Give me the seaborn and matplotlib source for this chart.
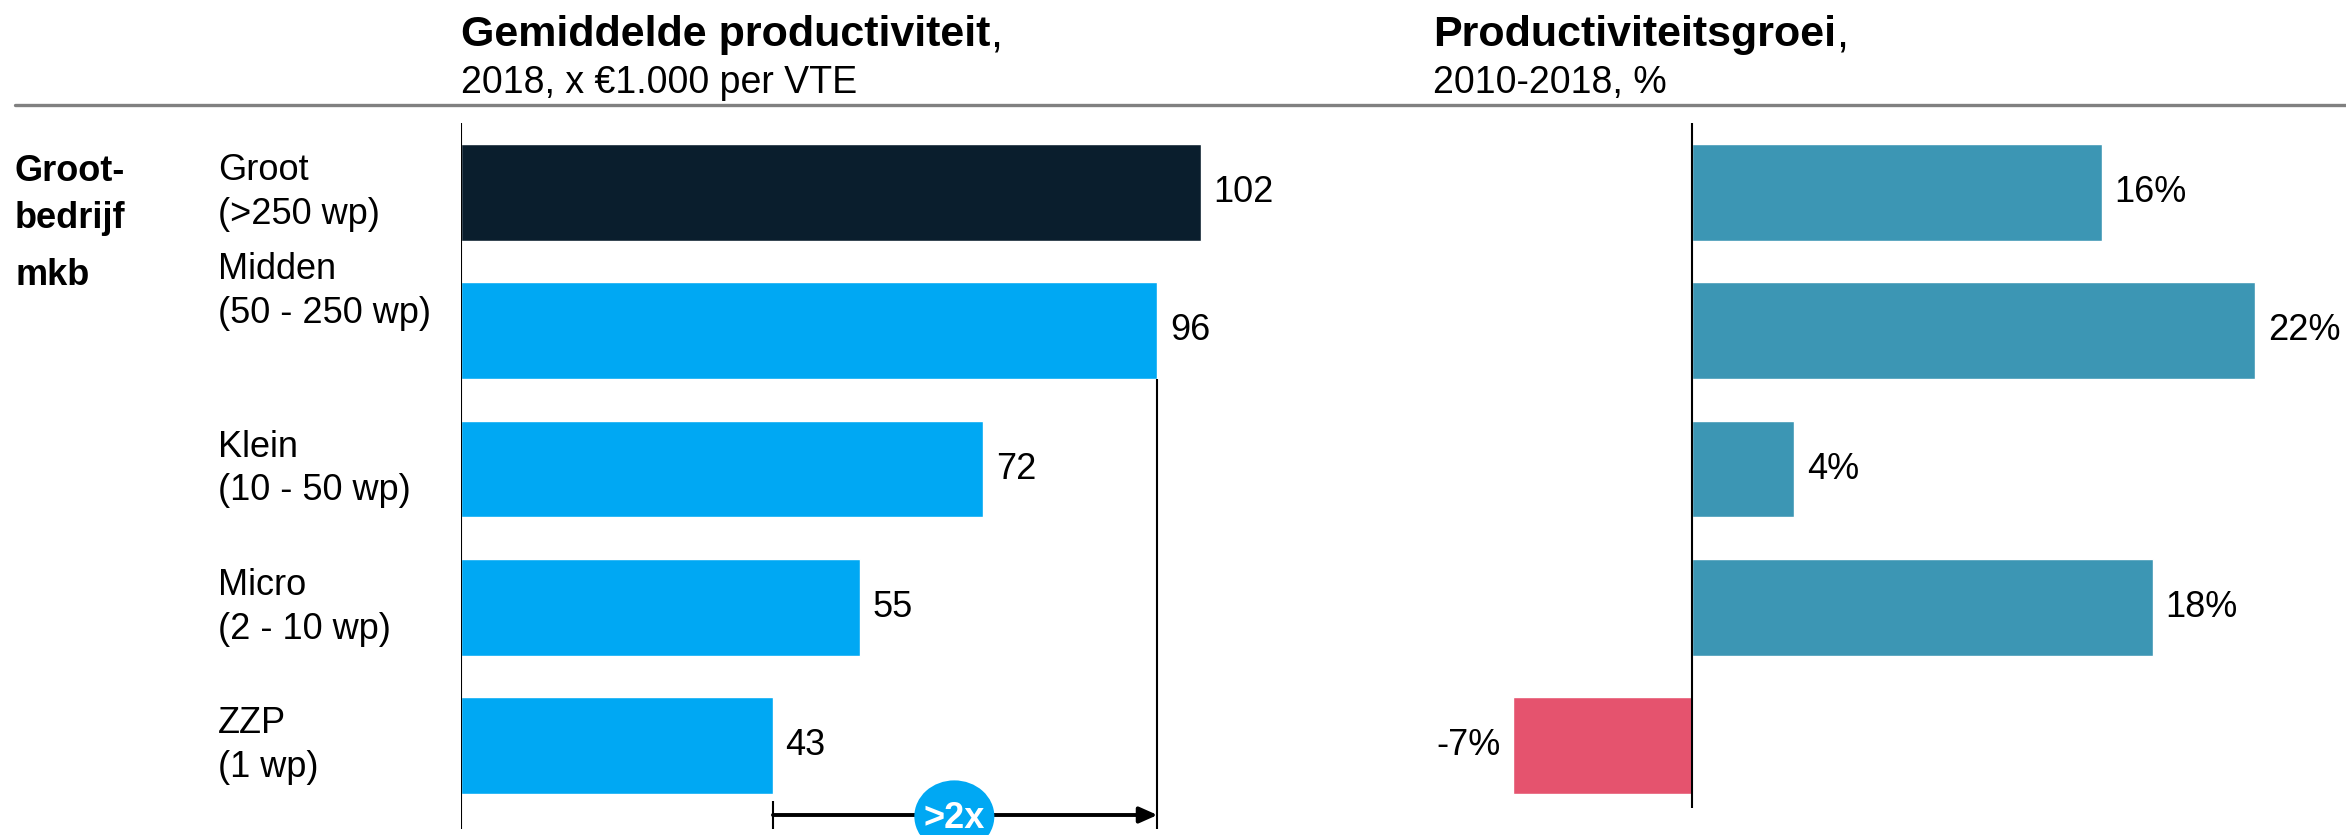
import pandas as pd
import matplotlib.pyplot as plt
import matplotlib.transforms as mtransforms
from matplotlib.patches import Ellipse
import seaborn as sns

# Data
categories = ["Groot", "Midden", "Klein", "Micro", "ZZP"]
size_labels = ["(>250 wp)", "(50 - 250 wp)", "(10 - 50 wp)", "(2 - 10 wp)", "(1 wp)"]
productivity = [102, 96, 72, 55, 43]   # x 1.000 euro per VTE, 2018
growth = [16, 22, 4, 18, -7]           # %, 2010-2018
groups = ["Groot-\nbedrijf", "mkb"]

# Colours
NAVY = "#0A1E2D"
BLUE = "#00A8F3"
TEAL = "#3C96B4"
RED = "#E5536E"
left_colors = {c: (NAVY if c == "Groot" else BLUE) for c in categories}
right_colors = {c: (RED if g < 0 else TEAL) for c, g in zip(categories, growth)}

sns.set_theme(style="white")
plt.rcParams['font.family'] = ['Liberation Sans', 'DejaVu Sans']
plt.rcParams['text.color'] = 'black'

W, H = 2346, 835
FS = 26
fig = plt.figure(figsize=(W / 100, H / 100), dpi=100)


def px_axes(x0, x1, y0, y1):
    return fig.add_axes([x0 / W, 1 - y1 / H, (x1 - x0) / W, (y1 - y0) / H])


ax1 = px_axes(461, 1300, 123, 835)
ax2 = px_axes(1440, 2346, 123, 835)

df = pd.DataFrame({"cat": categories, "prod": productivity, "groei": growth})

sns.barplot(data=df, x="prod", y="cat", hue="cat", palette=left_colors, legend=False,
            orient="h", width=0.7, saturation=1, ax=ax1)
sns.barplot(data=df, x="groei", y="cat", hue="cat", palette=right_colors, legend=False,
            orient="h", width=0.7, saturation=1, ax=ax2)

for c in ax1.containers:
    ax1.bar_label(c, padding=9, fontsize=FS, color="black")
for c in ax2.containers:
    ax2.bar_label(c, fmt="%d%%", padding=9, fontsize=FS, color="black")

ybot = (835 - 123) / 138.4 - 0.5
ax1.set_xlim(0, 839 / 7.255)
ax2.set_xlim(-252 / 25.6, 654 / 25.6)
for ax in (ax1, ax2):
    ax.set_ylim(ybot, -0.5)
    ax.set_axis_off()

# zero lines
ax1.vlines(0, -0.5, 4.6, color="black", lw=1.5)
ax2.vlines(0, -0.5, 4.45, color="black", lw=1.5)

# row labels
trans = mtransforms.blended_transform_factory(fig.transFigure, ax1.transData)
label_nudge = [0, -0.28, 0, 0, 0]
for i, (cat, sz) in enumerate(zip(categories, size_labels)):
    ax1.text(218 / W, i + label_nudge[i], cat + "\n" + sz, transform=trans,
             ha="left", va="center", fontsize=FS, linespacing=1.33)
ax1.text(15 / W, 0.02, groups[0], transform=trans, ha="left", va="center",
         fontsize=FS, weight="bold", linespacing=1.45)
ax1.text(15 / W, 1 - 0.4, groups[1], transform=trans, ha="left", va="center",
         fontsize=FS, weight="bold")

# >2x comparison arrow
lo, hi = productivity[4], productivity[1]
ax1.vlines(hi, 1.35, 4.6, color="black", lw=1.5)
ax1.vlines(lo, 4.4, 4.6, color="black", lw=1.5)
ax1.annotate("", xy=(hi, 4.5), xytext=(lo, 4.5),
             arrowprops=dict(arrowstyle="-|>,head_length=0.9,head_width=0.4",
                             color="black", lw=2.8, shrinkA=0, shrinkB=0))
bx, by = (lo + hi) / 2 - 1.5, 4.51
cx, cy = fig.transFigure.inverted().transform(ax1.transData.transform((bx, by)))
fig.add_artist(Ellipse((cx, cy), 80 / W, 72 / H, transform=fig.transFigure,
                       fc=BLUE, ec="none", zorder=5))
fig.text(cx, cy - 2 / H, ">2x", ha="center", va="center", color="white",
         weight="bold", fontsize=FS, zorder=6)

# titles
renderer = fig.canvas.get_renderer()
for x0, bold, sub in [(461, "Gemiddelde productiviteit", "2018, x €1.000 per VTE"),
                      (1433, "Productiviteitsgroei", "2010-2018, %")]:
    t = fig.text(x0 / W, 1 - 46 / H, bold, fontsize=31, weight="bold", va="baseline")
    bb = t.get_window_extent(renderer)
    fig.text(bb.x1 / W, 1 - 46 / H, ",", fontsize=31, va="baseline")
    fig.text(x0 / W, 1 - 93 / H, sub, fontsize=27, va="baseline")

fig.add_artist(plt.Line2D([15 / W, 1], [1 - 105 / H, 1 - 105 / H], color="#808080", lw=2.4))

fig.savefig("out.png", dpi=100)
